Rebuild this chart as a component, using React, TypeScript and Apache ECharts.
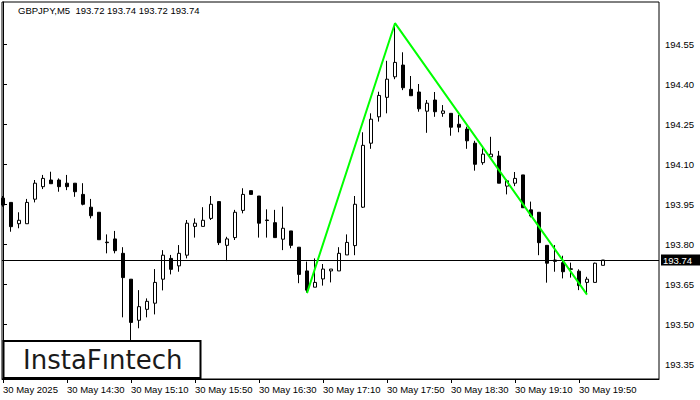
import React, { useEffect, useRef } from "react";
import * as echarts from "echarts";

const symbolTitle = "GBPJPY,M5  193.72 193.74 193.72 193.74";
const tickBars = [0, 8, 16, 24, 32, 40, 48, 56, 64, 72];
const tickLabels = [
  "30 May 2025",
  "30 May 14:30",
  "30 May 15:10",
  "30 May 15:50",
  "30 May 16:30",
  "30 May 17:10",
  "30 May 17:50",
  "30 May 18:30",
  "30 May 19:10",
  "30 May 19:50",
];
const priceTicks = [193.35, 193.5, 193.65, 193.8, 193.95, 194.1, 194.25, 194.4, 194.55];

const opens = [
  193.972, 193.956, 193.876, 193.876, 193.968, 194.015, 194.04, 194.04, 194.028, 194.028,
  193.986, 193.938, 193.919, 193.807, 193.819, 193.765, 193.668, 193.514, 193.555, 193.578,
  193.668, 193.746, 193.718, 193.758, 193.866, 193.866, 193.896, 193.959, 193.795, 193.824,
  193.926, 194.0, 193.98, 193.89, 193.88, 193.818, 193.849, 193.788, 193.699, 193.638,
  193.669, 193.699, 193.699, 193.759, 193.794, 193.938, 194.178, 194.277, 194.35, 194.427,
  194.471, 194.38, 194.37, 194.298, 194.34, 194.29, 194.29, 194.249, 194.231, 194.178,
  194.105, 194.127, 194.13, 194.017, 194.028, 194.059, 193.928, 193.919, 193.795, 193.74,
  193.73, 193.707, 193.698, 193.656, 193.656, 193.72,
];
const closes = [
  193.946, 193.865, 193.889, 193.956, 194.028, 194.046, 194.026, 194.015, 194.015, 193.996,
  193.949, 193.906, 193.816, 193.805, 193.775, 193.674, 193.506, 193.565, 193.585, 193.656,
  193.758, 193.705, 193.765, 193.878, 193.878, 193.889, 193.949, 193.805, 193.819, 193.919,
  193.986, 193.986, 193.878, 193.888, 193.824, 193.859, 193.795, 193.686, 193.627, 193.656,
  193.706, 193.706, 193.765, 193.806, 193.949, 194.17, 194.268, 194.357, 194.418, 194.481,
  194.386, 194.356, 194.307, 194.328, 194.296, 194.299, 194.238, 194.238, 194.187, 194.099,
  194.137, 194.137, 194.028, 194.037, 194.046, 193.936, 193.905, 193.805, 193.728, 193.735,
  193.696, 193.705, 193.644, 193.668, 193.728, 193.74,
];
const lows = [
  193.94, 193.846, 193.859, 193.876, 193.956, 194.006, 194.026, 193.996, 194.002, 193.977,
  193.945, 193.896, 193.816, 193.765, 193.765, 193.525, 193.44, 193.484, 193.525, 193.536,
  193.626, 193.686, 193.696, 193.746, 193.824, 193.866, 193.89, 193.796, 193.736, 193.815,
  193.915, 193.986, 193.824, 193.824, 193.824, 193.777, 193.784, 193.653, 193.618, 193.638,
  193.644, 193.656, 193.699, 193.759, 193.758, 193.935, 194.157, 194.259, 194.29, 194.418,
  194.377, 194.356, 194.296, 194.217, 194.277, 194.277, 194.206, 194.219, 194.157, 194.075,
  194.097, 194.127, 194.028, 193.986, 194.017, 193.936, 193.9, 193.758, 193.655, 193.696,
  193.671, 193.674, 193.627, 193.615, 193.656, 193.72,
];
const highs = [
  193.98, 193.956, 193.919, 193.969, 194.04, 194.059, 194.071, 194.046, 194.059, 194.028,
  194.028, 193.969, 193.919, 193.836, 193.849, 193.788, 193.668, 193.627, 193.596, 193.706,
  193.777, 193.759, 193.796, 193.89, 193.896, 193.938, 193.98, 193.959, 193.827, 193.928,
  194.009, 194.0, 193.98, 193.93, 193.928, 193.94, 193.849, 193.788, 193.734, 193.746,
  193.725, 193.706, 193.788, 193.836, 193.98, 194.219, 194.29, 194.371, 194.487, 194.628,
  194.519, 194.43, 194.4, 194.34, 194.37, 194.321, 194.29, 194.284, 194.24, 194.187,
  194.159, 194.202, 194.149, 194.042, 194.07, 194.059, 193.959, 193.919, 193.795, 193.796,
  193.756, 193.73, 193.705, 193.677, 193.73, 193.74,
];

const patternBars = [38, 49, 73];
const patternPrices = [193.616, 194.628, 193.61];
const lastPrice = 193.74;
const watermark = "InstaFıntech";

const FONT = "'Liberation Sans', Arial, sans-serif";

export default function App() {
  const ref = useRef<HTMLDivElement | null>(null);

  useEffect(() => {
    if (!ref.current) return;
    const chart = echarts.init(ref.current, undefined, { renderer: "svg" });
    const candles = opens.map((o, i) => [i, o, closes[i], lows[i], highs[i]]);
    const pattern = patternBars.map((b, k) => [b, patternPrices[k]]);

    chart.setOption({
      animation: false,
      backgroundColor: "#fff",
      title: {
        text: symbolTitle,
        left: 18,
        top: 5,
        padding: 0,
        textStyle: { fontSize: 9.5, fontWeight: "normal", color: "#000", fontFamily: FONT },
      },
      grid: {
        left: 2,
        right: 41,
        top: 2,
        bottom: 21,
        show: true,
        borderColor: "#000",
        borderWidth: 1,
        backgroundColor: "#fff",
      },
      xAxis: {
        type: "value",
        min: -0.125,
        max: 82,
        axisLine: { show: true, lineStyle: { color: "#000", width: 1 } },
        axisTick: { show: true, length: 4, customValues: tickBars, lineStyle: { color: "#000" } },
        axisLabel: {
          customValues: tickBars,
          formatter: (v: number) => {
            const k = tickBars.indexOf(Math.round(v));
            return k >= 0 ? tickLabels[k] : "";
          },
          align: "left",
          margin: 5,
          color: "#000",
          fontSize: 9.5,
          fontFamily: FONT,
        },
        splitLine: { show: false },
      },
      yAxis: {
        type: "value",
        position: "right",
        min: 193.29375,
        max: 194.7075,
        axisLine: { show: true, lineStyle: { color: "#000", width: 1 } },
        axisTick: { show: true, length: 4, customValues: priceTicks, lineStyle: { color: "#000" } },
        axisLabel: {
          customValues: priceTicks,
          formatter: (v: number) => v.toFixed(2),
          margin: 6,
          color: "#000",
          fontSize: 9.5,
          fontFamily: FONT,
        },
        splitLine: { show: false },
      },
      series: [
        {
          type: "candlestick",
          data: candles,
          encode: { x: 0, y: [1, 2, 3, 4] },
          barWidth: 4,
          silent: true,
          itemStyle: {
            color: "#fff",
            color0: "#000",
            borderColor: "#000",
            borderColor0: "#000",
            borderWidth: 1,
          },
          markLine: {
            silent: true,
            symbol: ["none", "none"],
            animation: false,
            lineStyle: { color: "#000", width: 1, type: "solid" },
            label: {
              show: true,
              position: "end",
              distance: 2,
              formatter: () => lastPrice.toFixed(2),
              color: "#fff",
              backgroundColor: "#000",
              padding: [1, 8, 0, 2],
              fontSize: 9.5,
              fontFamily: FONT,
            },
            data: [{ yAxis: lastPrice }],
          },
        },
        {
          type: "line",
          data: pattern,
          symbol: "none",
          silent: true,
          z: 5,
          lineStyle: { color: "#00ff00", width: 2 },
        },
      ],
      graphic: [
        {
          type: "rect",
          z: 100,
          shape: { x: 3.5, y: 341, width: 197, height: 37 },
          style: { fill: "#fff", stroke: "#000", lineWidth: 2 },
        },
        {
          type: "text",
          z: 101,
          x: 23,
          y: 360,
          style: {
            text: watermark,
            fill: "#1a1a1a",
            fontSize: 26,
            fontFamily: "'DejaVu Sans', sans-serif",
            verticalAlign: "middle",
            align: "left",
          },
        },
      ],
    });

    return () => chart.dispose();
  }, []);

  return (
    <div
      ref={ref}
      style={{ position: "fixed", left: 0, top: 0, width: 700, height: 400 }}
    />
  );
}
